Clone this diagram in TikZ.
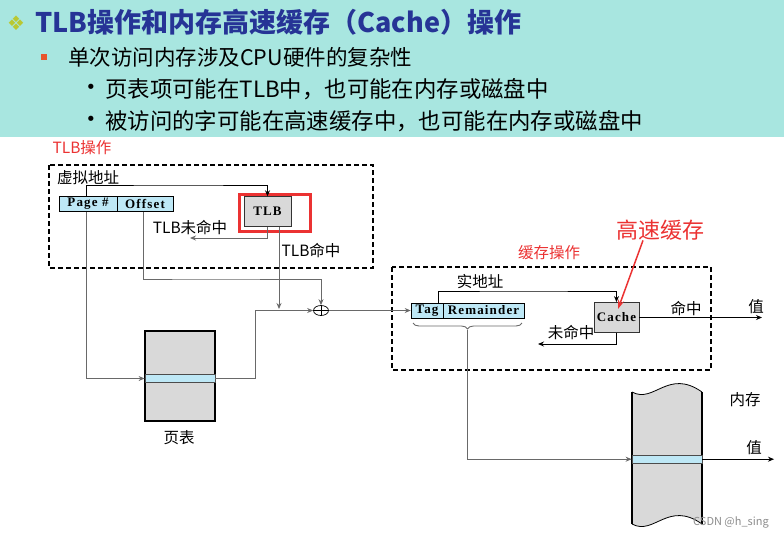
\documentclass[tikz,border=0pt]{standalone}
\usepackage{fontspec}
\setmainfont{Noto Sans CJK SC}
\newfontfamily\boxfont[LetterSpace=9]{Liberation Serif}
\newfontfamily\symfont{DejaVu Sans}
\usetikzlibrary{arrows.meta,shapes.geometric,decorations.pathreplacing}
\definecolor{headbg}{RGB}{168,230,224}
\definecolor{titleblue}{RGB}{38,52,150}
\definecolor{diagreen}{RGB}{185,200,50}
\definecolor{sqred}{RGB}{232,84,44}
\definecolor{cellblue}{RGB}{190,232,246}
\definecolor{boxgray}{RGB}{217,217,217}
\definecolor{wiregray}{RGB}{105,105,105}
\definecolor{markred}{RGB}{235,50,50}
\begin{document}
\begin{tikzpicture}[x=1pt,y=-1pt,
	wire/.style={draw=wiregray,line width=0.9pt},
	arr/.style={wire,-{Stealth[length=6pt,width=5pt]}},
	cell/.style={draw=black,line width=0.6pt,fill=cellblue,inner sep=0pt,minimum height=15pt,font=\boxfont\bfseries\fontsize{13}{13}\selectfont},
	unit/.style={draw=black!80,line width=0.8pt,fill=boxgray,inner sep=0pt,font=\boxfont\bfseries\fontsize{13}{13}\selectfont},
	txt/.style={font=\fontsize{15.5}{18}\selectfont,inner sep=0pt},
	redtxt/.style={txt,text=markred},
	dashbox/.style={draw=black,line width=1.8pt,dash pattern=on 5pt off 3pt},
	band/.style={draw=black!70,line width=0.8pt,fill=cellblue,inner sep=0pt}]
		\fill[headbg] (0,0) rectangle (784,137);
		\useasboundingbox (0,0) rectangle (784,539);
		\node[text=diagreen,font=\symfont\fontsize{20}{20}\selectfont,inner sep=0pt](dia) at (16,23){❖};
		\node[anchor=west,text=titleblue,font=\bfseries\fontsize{27}{30}\selectfont,inner sep=0pt](title) at (35,22){TLB操作和内存高速缓存（Cache）操作};
		\node[fill=sqred,minimum size=6pt,inner sep=0pt](sq) at (44,57){};
		\node[anchor=west,font=\fontsize{21.5}{24}\selectfont,inner sep=0pt](line1) at (68,57){单次访问内存涉及CPU硬件的复杂性};
		\node[font=\symfont\fontsize{18}{24}\selectfont,inner sep=0pt](dot1) at (91,89){•};
		\node[anchor=west,font=\fontsize{22.4}{24}\selectfont,inner sep=0pt](line2) at (105,89){页表项可能在TLB中，也可能在内存或磁盘中};
		\node[font=\symfont\fontsize{18}{24}\selectfont,inner sep=0pt](dot2) at (91,121){•};
		\node[anchor=west,font=\fontsize{22.4}{24}\selectfont,inner sep=0pt](line3) at (105,121){被访问的字可能在高速缓存中，也可能在内存或磁盘中};
		\draw[dashbox] (49,165) rectangle (373,268);
		\draw[dashbox] (392,267) rectangle (711,370);
		\node[redtxt](tlbop) at (82,148){TLB操作};
		\node[txt](vaddr) at (88,178){虚拟地址};
		\node[cell,minimum width=58pt](pagebox) at (88,204){Page \#};
		\node[cell,minimum width=56pt](offbox) at (145,204){Offset};
		\node[draw=markred,line width=2.5pt,minimum width=71pt,minimum height=37pt,inner sep=0pt](tlbmark) at (275,213){};
		\node[unit,minimum width=47pt,minimum height=30pt](tlb) at (267.5,211.7){TLB};
		\node[txt](tlbmisslab) at (190,228){TLB未命中};
		\node[txt](tlbhitlab) at (311,251){TLB命中};
		\node[draw=black,line width=2pt,fill=boxgray,minimum width=70pt,minimum height=90pt,inner sep=0pt](pt) at (180,376){};
		\node[band,minimum width=70pt,minimum height=8.4pt](ptband) at (180,378.5){};
		\node[txt](ptlab) at (179,438){页表};
		\node[ellipse,draw=black,line width=0.7pt,minimum width=15pt,minimum height=10pt,inner sep=0pt](plus) at (321,310.5){};
		\draw[line width=0.7pt] (plus.north)--(plus.south) (plus.west)--(plus.east);
		\node[redtxt](cacheop) at (549,253){缓存操作};
		\node[redtxt,font=\fontsize{22}{26}\selectfont](hsc) at (660,230){高速缓存};
		\node[txt](realab) at (480,282){实地址};
		\node[cell,minimum width=32pt](tagbox) at (427,310.5){Tag};
		\node[cell,minimum width=81pt](rembox) at (483.5,310.5){Remainder};
		\node[unit,minimum width=45pt,minimum height=30pt](cache) at (616.5,317.5){Cache};
		\node[txt](hitlab) at (686,309){命中};
		\node[txt](val1) at (756,307){值};
		\node[txt](misslab) at (571,333){未命中};
		\fill[boxgray] (632,392) .. controls (654,404) and (668,368) .. (702,392) -- (702,524) .. controls (668,500) and (654,536) .. (632,524) -- cycle;
		\draw[line width=0.8pt] (632,392) .. controls (654,404) and (668,368) .. (702,392);
		\draw[line width=0.8pt] (632,524) .. controls (654,536) and (668,500) .. (702,524);
		\draw[line width=2pt] (632,392)--(632,524) (702,392)--(702,524);
		\node[band,minimum width=70pt,minimum height=8.3pt](memband) at (667,459.2){};
		\node[txt](memlab) at (745,400){内存};
		\node[txt](val2) at (754,448){值};
		\node[text=black!45,font=\fontsize{11}{12}\selectfont,inner sep=0pt](mark) at (731,522){CSDN @h\_sing};
		\coordinate (vtop) at (180,185);
		\coordinate (tlbmiss) at (190,238);
		\coordinate (hitend) at (279,309);
		\coordinate (offturn) at (200,279);
		\coordinate (ptup) at (255,310.5);
		\coordinate (realtop) at (520,291);
		\coordinate (bracetip) at (467.5,330);
		\coordinate (redtip) at (618,309);
		\coordinate (hitout) at (762,317.5);
		\coordinate (cmiss) at (538,344);
		\coordinate (memout) at (774,459.2);
		\draw[arr,draw=black] ([xshift=-2pt]pagebox.north) |- (vtop) -| (tlb.north);
		\draw[arr] (tlb.south) |- (tlbmiss);
		\draw[arr] ([xshift=11.5pt]tlb.south) -- (hitend);
		\draw[arr] ([xshift=-2pt]offbox.south) |- (offturn) -| (plus.north);
		\draw[arr] ([xshift=-2pt]pagebox.south) |- (ptband.west);
		\draw[arr] (ptband.east) -| (ptup) -- (plus.west);
		\draw[arr] (plus.east) -- (tagbox.west);
		\draw[arr,draw=black] ([xshift=11pt]tagbox.north) |- (realtop) -| (cache.north);
		\draw[wire,decorate,decoration={brace,mirror,amplitude=6pt}] (413,323) -- (522,323);
		\draw[arr] (bracetip) |- (memband.west);
		\draw[draw=markred,line width=1.5pt,-{Stealth[length=9pt,width=6pt]}] ([xshift=-17pt]hsc.south) -- (redtip);
		\draw[arr,draw=black] (cache.east) -- (hitout);
		\draw[arr,draw=black] (cache.south) |- (cmiss);
		\draw[arr,draw=black] (memband.east) -- (memout);
		\end{tikzpicture}
\end{document}
